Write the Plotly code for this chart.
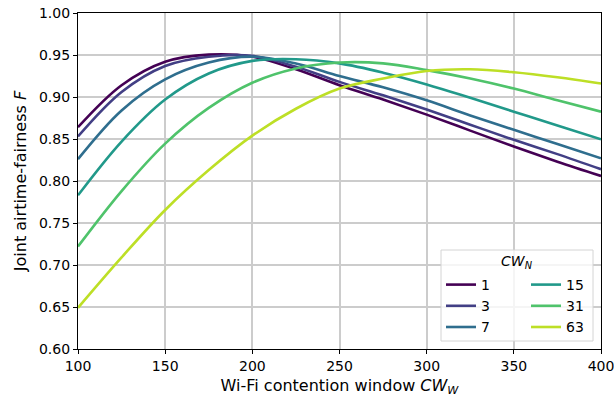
import plotly.graph_objects as go

# Wi-Fi contention window CW_W (sample positions along the x axis)
cw_w = [100, 125, 150, 175, 200, 225, 250, 275, 300, 325, 350, 375, 400]

# Joint airtime-fairness F for each CW_N
f_cw1 = [0.864, 0.914, 0.942, 0.9505, 0.948, 0.933, 0.914, 0.897, 0.879, 0.860, 0.841, 0.823, 0.806]
f_cw3 = [0.853, 0.906, 0.937, 0.948, 0.949, 0.936, 0.918, 0.902, 0.885, 0.867, 0.849, 0.832, 0.814]
f_cw7 = [0.826, 0.884, 0.921, 0.941, 0.948, 0.940, 0.925, 0.9115, 0.896, 0.878, 0.861, 0.844, 0.827]
f_cw15 = [0.783, 0.847, 0.897, 0.928, 0.943, 0.945, 0.940, 0.929, 0.915, 0.899, 0.8825, 0.866, 0.8496]
f_cw31 = [0.722, 0.788, 0.8445, 0.887, 0.917, 0.934, 0.941, 0.940, 0.932, 0.922, 0.910, 0.896, 0.8825]
f_cw63 = [0.649, 0.709, 0.7655, 0.813, 0.854, 0.886, 0.910, 0.922, 0.931, 0.933, 0.9295, 0.9235, 0.916]

cw_n_labels = ["1", "3", "7", "15", "31", "63"]
series = [f_cw1, f_cw3, f_cw7, f_cw15, f_cw31, f_cw63]
colors = ["#440154", "#423f85", "#2f6e8e", "#21998a", "#4fc36b", "#bddf26"]

x_ticks = [100, 150, 200, 250, 300, 350, 400]
y_ticks = [0.60, 0.65, 0.70, 0.75, 0.80, 0.85, 0.90, 0.95, 1.00]

W, H = 614, 401
L, R, T, B = 78, 13, 13, 52
pw, ph = W - L - R, H - T - B


def px_x(p):
    return (p - L) / pw


def px_y(p):
    return (H - B - p) / ph


fig = go.Figure()
for i, (lab, ys, c) in enumerate(zip(cw_n_labels, series, colors)):
    fig.add_trace(go.Scatter(
        x=cw_w, y=ys, mode="lines", name=lab,
        line=dict(color=c, width=2.6, shape="spline", smoothing=1.0),
        legend="legend" if i < 3 else "legend2",
        hoverinfo="skip",
    ))

font = dict(family="DejaVu Sans", size=14, color="black")
grid_c = "#cccccc"
dark_grid = "#aaaaaa"

shapes = [
    # legend frame
    dict(type="rect", xref="paper", yref="paper",
         x0=px_x(441), x1=px_x(593), y0=px_y(341), y1=px_y(250),
         line=dict(color="#d4d4d4", width=1), fillcolor="rgba(255,255,255,0.8)",
         layer="above"),
    # grid lines drawn twice appear darker
    dict(type="line", xref="x", yref="paper", x0=350, x1=350, y0=0, y1=1,
         line=dict(color=dark_grid, width=1.6), layer="between"),
    dict(type="line", xref="paper", yref="y", x0=0, x1=1, y0=0.70, y1=0.70,
         line=dict(color=dark_grid, width=1.6), layer="between"),
    dict(type="line", xref="paper", yref="y", x0=0, x1=1, y0=0.65, y1=0.65,
         line=dict(color=dark_grid, width=1.6), layer="between"),
]

leg_common = dict(bgcolor="rgba(0,0,0,0)", borderwidth=0, font=font,
                  xanchor="left", yanchor="top", tracegroupgap=0)

fig.update_layout(
    width=W, height=H,
    margin=dict(l=L, r=R, t=T, b=B, pad=0, autoexpand=False),
    paper_bgcolor="white", plot_bgcolor="white",
    font=font,
    showlegend=True,
    legend=dict(x=px_x(441), y=px_y(269), **leg_common),
    legend2=dict(x=px_x(526), y=px_y(269), **leg_common),
    shapes=shapes,
    annotations=[dict(
        text="<i>CW</i><sub><i>N</i></sub>", xref="paper", yref="paper",
        x=px_x(517), y=px_y(262), showarrow=False,
        font=dict(family="DejaVu Sans", size=14, color="black"),
        xanchor="center", yanchor="middle",
    )],
    xaxis=dict(
        range=[100, 400], tickvals=x_ticks, ticktext=[str(v) for v in x_ticks],
        showgrid=True, gridcolor=grid_c, gridwidth=1.6,
        showline=True, linecolor="black", linewidth=1.2, mirror=True,
        ticks="outside", ticklen=4, tickwidth=1, tickcolor="black",
        zeroline=False, tickfont=font, ticklabeloverflow="allow", automargin=False,
        title=dict(text="Wi-Fi contention window <i>CW</i><sub><i>W</i></sub>",
                   font=dict(family="DejaVu Sans", size=16, color="black"),
                   standoff=6),
    ),
    yaxis=dict(
        range=[0.60, 1.00], tickvals=y_ticks, ticktext=[f"{v:.2f}" for v in y_ticks],
        showgrid=True, gridcolor=grid_c, gridwidth=1.6,
        showline=True, linecolor="black", linewidth=1.2, mirror=True,
        ticks="outside", ticklen=4, tickwidth=1, tickcolor="black",
        zeroline=False, tickfont=font, ticklabeloverflow="allow", automargin=False,
        title=dict(text="Joint airtime-fairness <i>F</i>",
                   font=dict(family="DejaVu Sans", size=16, color="black"),
                   standoff=8),
    ),
)

fig.write_html("out.html")
